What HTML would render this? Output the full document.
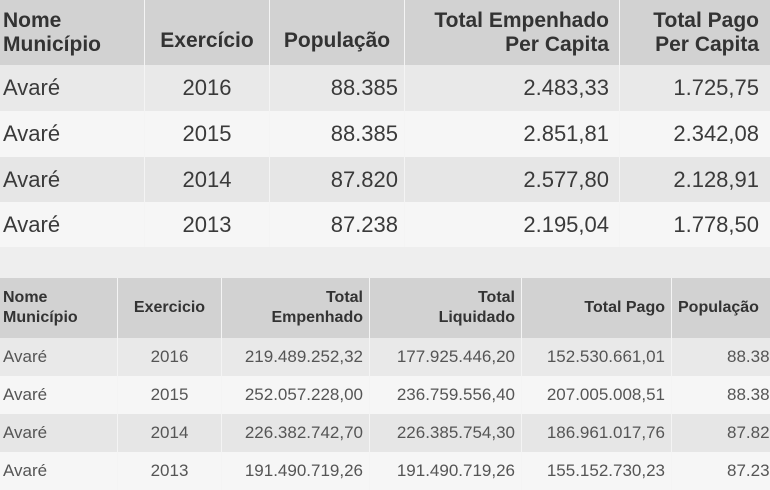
<!DOCTYPE html>
<html><head><meta charset="utf-8">
<style>
body{margin:0;width:770px;height:480px;overflow:hidden;background:#eeeeee;font-family:"Liberation Sans Narrow","Liberation Sans",Arial,sans-serif;position:relative}
.r{position:absolute;left:0;width:800px;display:flex}
.c{box-sizing:border-box;display:flex;align-items:center;border-right:1px solid #f4f4f4;height:100%;white-space:nowrap}
.t1{font-size:22px;color:#3a3a3a}
.t1 .h{font-weight:bold;color:#333;font-size:21px;line-height:24px}
.t2{font-size:17px;color:#555}
.t2 .h{font-weight:bold;color:#333;font-size:16px;line-height:20px}
.R{justify-content:flex-end;text-align:right;padding-right:6px}
.C{justify-content:center}
.L{padding-left:3px}
</style></head><body>
<div class="t1">
<div class="r" style="top:0;height:65px;background:#d2d2d2">
<div class="c L h" style="width:145px">Nome<br>Município</div>
<div class="c C h" style="width:125px;padding-top:16px">Exercício</div>
<div class="c C h" style="width:135px;padding-top:16px">População</div>
<div class="c R h" style="width:215px;padding-right:10px">Total Empenhado<br>Per Capita</div>
<div class="c R h" style="width:170px;padding-right:30px">Total Pago<br>Per Capita</div>
</div>
<div class="r" style="top:65px;height:46px;background:#e9e9e9"><div class="c L" style="width:145px">Avaré</div><div class="c C" style="width:125px">2016</div><div class="c R" style="width:135px">88.385</div><div class="c R" style="width:215px;padding-right:10px">2.483,33</div><div class="c R" style="width:170px;padding-right:30px">1.725,75</div></div>
<div class="r" style="top:111px;height:46px;background:#f6f6f6"><div class="c L" style="width:145px">Avaré</div><div class="c C" style="width:125px">2015</div><div class="c R" style="width:135px">88.385</div><div class="c R" style="width:215px;padding-right:10px">2.851,81</div><div class="c R" style="width:170px;padding-right:30px">2.342,08</div></div>
<div class="r" style="top:157px;height:45px;background:#e6e6e6"><div class="c L" style="width:145px">Avaré</div><div class="c C" style="width:125px">2014</div><div class="c R" style="width:135px">87.820</div><div class="c R" style="width:215px;padding-right:10px">2.577,80</div><div class="c R" style="width:170px;padding-right:30px">2.128,91</div></div>
<div class="r" style="top:202px;height:45px;background:#f6f6f6"><div class="c L" style="width:145px">Avaré</div><div class="c C" style="width:125px">2013</div><div class="c R" style="width:135px">87.238</div><div class="c R" style="width:215px;padding-right:10px">2.195,04</div><div class="c R" style="width:170px;padding-right:30px">1.778,50</div></div>
</div>
<div class="t2">
<div class="r" style="top:278px;height:60px;background:#d2d2d2">
<div class="c L h" style="width:118px">Nome<br>Município</div>
<div class="c C h" style="width:104px">Exercicio</div>
<div class="c R h" style="width:148px">Total<br>Empenhado</div>
<div class="c R h" style="width:152px">Total<br>Liquidado</div>
<div class="c R h" style="width:150px">Total Pago</div>
<div class="c L h" style="width:118px;padding-left:6px">População</div>
</div>
<div class="r" style="top:338px;height:38px;background:#e9e9e9"><div class="c L" style="width:118px">Avaré</div><div class="c C" style="width:104px">2016</div><div class="c R" style="width:148px">219.489.252,32</div><div class="c R" style="width:152px">177.925.446,20</div><div class="c R" style="width:150px">152.530.661,01</div><div class="c R" style="width:108px;padding-right:0">88.385</div></div>
<div class="r" style="top:376px;height:38px;background:#f6f6f6"><div class="c L" style="width:118px">Avaré</div><div class="c C" style="width:104px">2015</div><div class="c R" style="width:148px">252.057.228,00</div><div class="c R" style="width:152px">236.759.556,40</div><div class="c R" style="width:150px">207.005.008,51</div><div class="c R" style="width:108px;padding-right:0">88.385</div></div>
<div class="r" style="top:414px;height:38px;background:#e6e6e6"><div class="c L" style="width:118px">Avaré</div><div class="c C" style="width:104px">2014</div><div class="c R" style="width:148px">226.382.742,70</div><div class="c R" style="width:152px">226.385.754,30</div><div class="c R" style="width:150px">186.961.017,76</div><div class="c R" style="width:108px;padding-right:0">87.820</div></div>
<div class="r" style="top:452px;height:38px;background:#f6f6f6"><div class="c L" style="width:118px">Avaré</div><div class="c C" style="width:104px">2013</div><div class="c R" style="width:148px">191.490.719,26</div><div class="c R" style="width:152px">191.490.719,26</div><div class="c R" style="width:150px">155.152.730,23</div><div class="c R" style="width:108px;padding-right:0">87.238</div></div>
</div>
</body></html>
